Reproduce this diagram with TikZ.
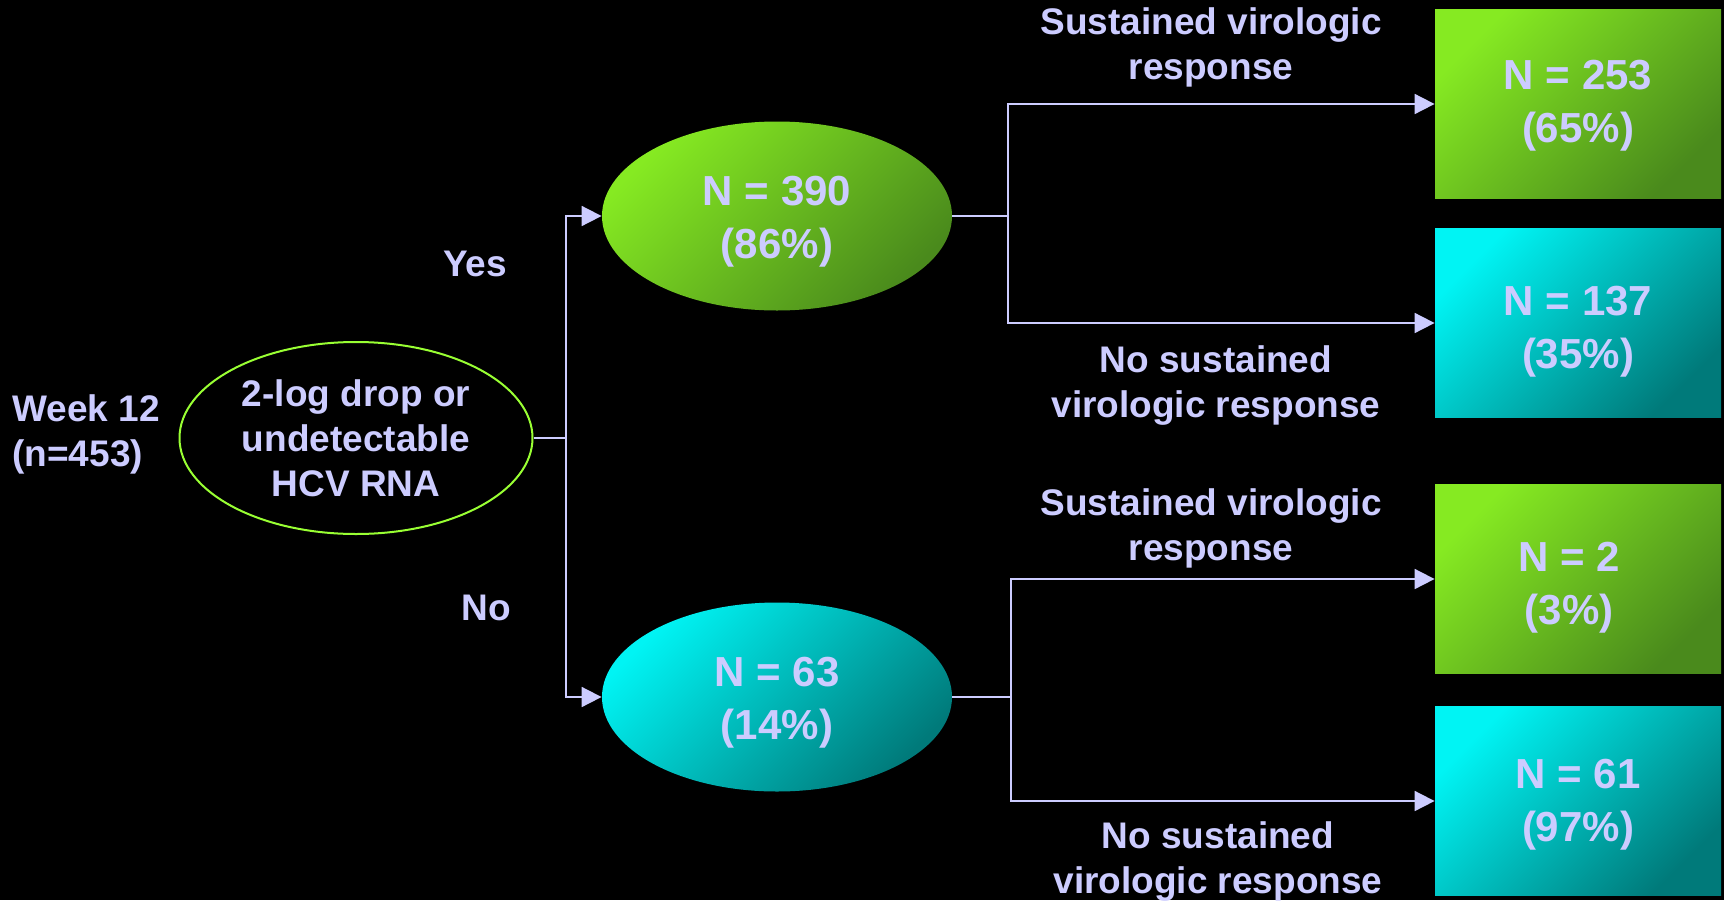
\documentclass[tikz,border=0pt]{standalone}
\usepackage{fontspec}
\setmainfont{Liberation Sans}
\usetikzlibrary{arrows.meta,shapes.geometric}
\definecolor{lav}{HTML}{CCCCFF}
\definecolor{grnlite}{HTML}{86EA22}
\definecolor{grndark}{HTML}{4A8A1C}
\definecolor{cyanlite}{HTML}{00F4F4}
\definecolor{cyandark}{HTML}{007A7A}
\definecolor{rim}{HTML}{99FF33}

\begin{document}
\begin{tikzpicture}[x=0.5pt,y=-0.5pt,
  big/.style = {text=lav,font=\fontsize{21}{26.5}\selectfont\bfseries,align=center},
  lab/.style = {text=lav,font=\fontsize{18.5}{22.5}\selectfont\bfseries,align=center},
  oval/.style = {ellipse,inner sep=0pt,minimum width=175pt,minimum height=94.5pt},
  box/.style = {rectangle,inner sep=0pt,minimum width=143pt,minimum height=94.5pt},
  grn/.style = {top color=grnlite,bottom color=grndark,shading angle=45},
  cyn/.style = {top color=cyanlite,bottom color=cyandark,shading angle=45},
  link/.style = {draw=lav,line width=0.9pt},
  arr/.style = {link,-{Triangle[length=10pt,width=10pt]}}]
\fill[black] (0,0) rectangle (1724,900);
\useasboundingbox (0,0) rectangle (1724,900);
% root and first split
\node[lab,anchor=west,align=left,inner sep=0pt] (wk) at (12,434) {Week 12\\(n=453)};
\node[oval,lab,draw=rim,line width=1pt,minimum width=176.5pt,minimum height=96pt] (root) at (356,438) {2-log drop or\\undetectable\\HCV RNA};
\node[oval,grn] (yes) at (777,216) {};
\node[big] (tyes) at (777,222) {N = 390\\(86\%)};
\node[oval,cyn] (no) at (777,697) {};
\node[big] (tno) at (777,703) {N = 63\\(14\%)};
\node[lab] (lyes) at (475,264) {Yes};
\node[lab] (lno) at (486,608) {No};
% outcome boxes
\foreach \nm/\yy/\sty/\num/\pct/\dx/\dy in {b1/104/grn/253/65/0/2, b2/323/cyn/137/35/0/9, b3/579/grn/2/3/-9/9, b4/801/cyn/61/97/0/4}{
    \node[box,\sty] (\nm) at (1578,\yy) {};
    \node[big] (t\nm) at (1578+\dx,\yy+\dy) {N = \num\\(\pct\%)};
}
\node[lab] (s1) at (1211,47) {Sustained virologic\\response};
\node[lab] (n1) at (1216,386) {No sustained\\virologic response};
\node[lab] (s2) at (1211,528) {Sustained virologic\\response};
\node[lab] (n2) at (1218,862) {No sustained\\virologic response};
% connectors
\coordinate (j0) at (566,438);
\coordinate (j1) at (1008,216);
\coordinate (j2) at (1011,697);
\draw[link] (root.east) -- (j0);
\draw[arr] (j0) |- (yes.west);
\draw[arr] (j0) |- (no.west);
\draw[link] (yes.east) -- (j1);
\draw[arr] (j1) |- (b1.west);
\draw[arr] (j1) |- (b2.west);
\draw[link] (no.east) -- (j2);
\draw[arr] (j2) |- (b3.west);
\draw[arr] (j2) |- (b4.west);
\end{tikzpicture}
\end{document}
